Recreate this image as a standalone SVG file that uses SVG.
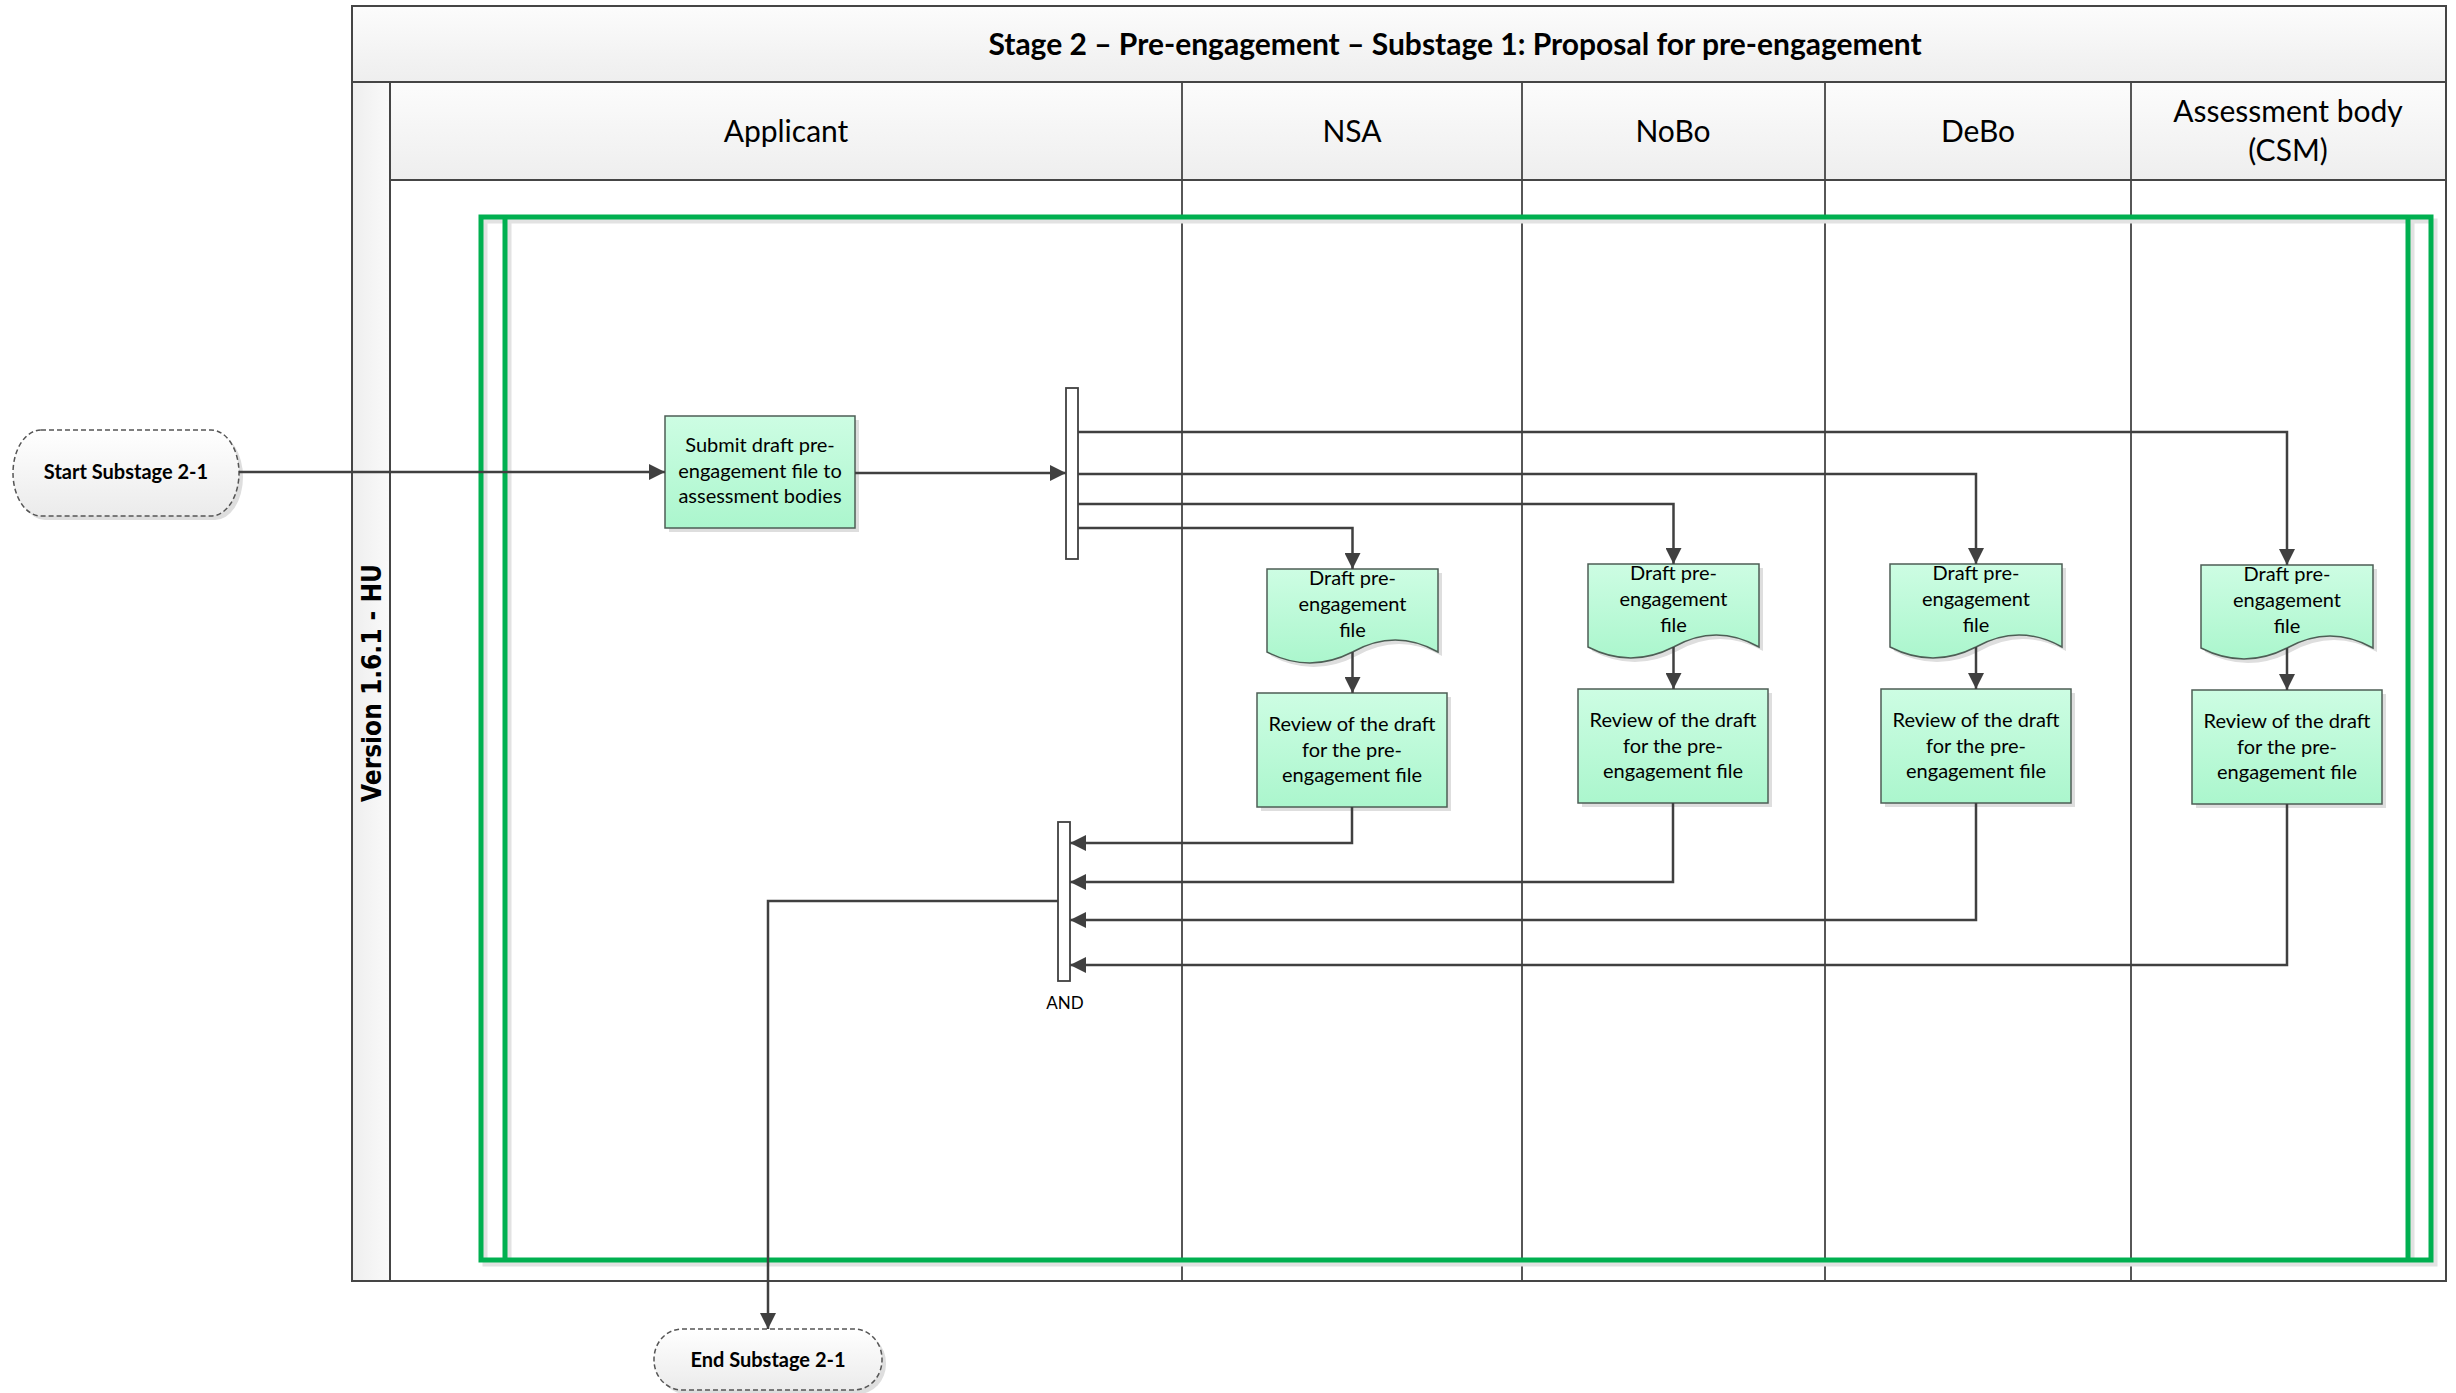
<svg xmlns="http://www.w3.org/2000/svg" width="2456" height="1393" viewBox="0 0 2456 1393">
<defs>
<linearGradient id="gBar" x1="0" y1="0" x2="0" y2="1"><stop offset="0" stop-color="#fcfcfc"/><stop offset="1" stop-color="#eeeeee"/></linearGradient>
<linearGradient id="gVer" x1="0" y1="0" x2="1" y2="0"><stop offset="0" stop-color="#eeeeee"/><stop offset="1" stop-color="#fafafa"/></linearGradient>
<linearGradient id="gMint" x1="0" y1="0" x2="0" y2="1"><stop offset="0" stop-color="#cdfde3"/><stop offset="1" stop-color="#abf6cd"/></linearGradient>
<linearGradient id="gTerm" x1="0" y1="0" x2="0" y2="1"><stop offset="0" stop-color="#ffffff"/><stop offset="1" stop-color="#ebebeb"/></linearGradient>
<marker id="arr" viewBox="0 0 16 16" refX="16" refY="8" markerWidth="16" markerHeight="16" markerUnits="userSpaceOnUse" orient="auto"><path d="M0,0 L16,8 L0,16 Z" fill="#404040"/></marker>
<style>
.frame{fill:none;stroke:#454545;stroke-width:2}
.lane{stroke:#454545;stroke-width:1.8;fill:none}
.green{fill:none;stroke:#00b050;stroke-width:5}
.gshadow{fill:none;stroke:#e2e2e2;stroke-width:5}
.conn{fill:none;stroke:#404040;stroke-width:2.5;marker-end:url(#arr)}
.plain{fill:none;stroke:#404040;stroke-width:2.5}
.box{fill:url(#gMint);stroke:#4d5e55;stroke-width:1.5}
.shadow{fill:#dedede;stroke:none}
.term{fill:url(#gTerm);stroke:#555555;stroke-width:1.5;stroke-dasharray:5 3}
.bar{fill:#ffffff;stroke:#404040;stroke-width:1.8}
.t{font-family:Lato,"Liberation Sans",sans-serif;fill:#000;text-anchor:middle}
.title{font-size:30px;font-weight:bold}
.hdr{font-size:30px}
.nt{font-size:20px}
.bt{font-size:20px;font-weight:bold}
.ver{font-family:"DejaVu Sans",Verdana,sans-serif;font-weight:bold;font-size:26px;fill:#000;text-anchor:middle}
</style>
</defs>
<rect width="2456" height="1393" fill="#ffffff"/>

<g id="pool">
<rect x="352" y="6" width="2094" height="1275" fill="#ffffff" class="frame"/>
<rect x="352" y="6" width="2094" height="76" fill="url(#gBar)" stroke="#454545" stroke-width="2"/>
<text class="t title" x="1455" y="55">Stage 2 – Pre-engagement – Substage 1: Proposal for pre-engagement</text>
<rect x="352" y="82" width="38" height="1199" fill="url(#gVer)" stroke="#454545" stroke-width="2"/>
<text class="ver" transform="translate(371.5,683) rotate(-90)" y="9.5" textLength="238" lengthAdjust="spacingAndGlyphs">Version 1.6.1 - HU</text>
<rect x="390" y="82" width="2056" height="98" fill="url(#gBar)" stroke="#454545" stroke-width="2"/>
<line class="lane" x1="1182" y1="82" x2="1182" y2="1281"/>
<line class="lane" x1="1522" y1="82" x2="1522" y2="1281"/>
<line class="lane" x1="1825" y1="82" x2="1825" y2="1281"/>
<line class="lane" x1="2131" y1="82" x2="2131" y2="1281"/>
<text class="t hdr" x="786" y="142">Applicant</text>
<text class="t hdr" x="1352" y="142">NSA</text>
<text class="t hdr" x="1673" y="142">NoBo</text>
<text class="t hdr" x="1978" y="142">DeBo</text>
<text class="t hdr" x="2288" y="122">Assessment body</text>
<text class="t hdr" x="2288" y="161">(CSM)</text>
</g>

<g id="container">
<rect class="gshadow" x="485" y="221" width="1950" height="1043"/>
<line class="gshadow" x1="509" y1="221" x2="509" y2="1264"/>
<line class="gshadow" x1="2412" y1="221" x2="2412" y2="1264"/>
<rect class="green" x="481" y="217" width="1950" height="1043"/>
<line class="green" x1="505" y1="217" x2="505" y2="1260"/>
<line class="green" x1="2408" y1="217" x2="2408" y2="1260"/>
</g>

<g id="start">
<rect class="shadow" x="17" y="434" width="226" height="86" rx="28" ry="43"/>
<rect class="term" x="13" y="430" width="226" height="86" rx="28" ry="43"/>
<text class="t bt" x="126" y="479">Start Substage 2-1</text>
</g>

<g id="submit">
<rect class="shadow" x="669" y="420" width="190" height="112"/>
<rect class="box" x="665" y="416" width="190" height="112"/>
<text class="t nt" x="760" y="452">Submit draft pre-</text>
<text class="t nt" x="760" y="477.5">engagement file to</text>
<text class="t nt" x="760" y="503">assessment bodies</text>
</g>

<g id="fork">
<rect class="bar" x="1066" y="388" width="12" height="171"/>
</g>

<g id="doc-nsa">
<path class="shadow" transform="translate(4,4)" d="M1267,569 H1438 V652 Q1395.25,628 1352.5,652 Q1309.75,674 1267,652 Z"/>
<path class="box" d="M1267,569 H1438 V652 Q1395.25,628 1352.5,652 Q1309.75,674 1267,652 Z"/>
<text class="t nt" x="1352.5" y="585">Draft pre-</text>
<text class="t nt" x="1352.5" y="611">engagement</text>
<text class="t nt" x="1352.5" y="637">file</text>
</g>
<g id="doc-nobo">
<path class="shadow" transform="translate(4,4)" d="M1588,564 H1759 V647 Q1716.25,623 1673.5,647 Q1630.75,669 1588,647 Z"/>
<path class="box" d="M1588,564 H1759 V647 Q1716.25,623 1673.5,647 Q1630.75,669 1588,647 Z"/>
<text class="t nt" x="1673.5" y="580">Draft pre-</text>
<text class="t nt" x="1673.5" y="606">engagement</text>
<text class="t nt" x="1673.5" y="632">file</text>
</g>
<g id="doc-debo">
<path class="shadow" transform="translate(4,4)" d="M1890,564 H2062 V647 Q2019,623 1976,647 Q1933,669 1890,647 Z"/>
<path class="box" d="M1890,564 H2062 V647 Q2019,623 1976,647 Q1933,669 1890,647 Z"/>
<text class="t nt" x="1976" y="580">Draft pre-</text>
<text class="t nt" x="1976" y="606">engagement</text>
<text class="t nt" x="1976" y="632">file</text>
</g>
<g id="doc-ab">
<path class="shadow" transform="translate(4,4)" d="M2201,565 H2373 V648 Q2330,624 2287,648 Q2244,670 2201,648 Z"/>
<path class="box" d="M2201,565 H2373 V648 Q2330,624 2287,648 Q2244,670 2201,648 Z"/>
<text class="t nt" x="2287" y="581">Draft pre-</text>
<text class="t nt" x="2287" y="607">engagement</text>
<text class="t nt" x="2287" y="633">file</text>
</g>

<g id="review-nsa">
<rect class="shadow" x="1261" y="697" width="190" height="114"/>
<rect class="box" x="1257" y="693" width="190" height="114"/>
<text class="t nt" x="1352" y="731">Review of the draft</text>
<text class="t nt" x="1352" y="756.5">for the pre-</text>
<text class="t nt" x="1352" y="782">engagement file</text>
</g>
<g id="review-nobo">
<rect class="shadow" x="1582" y="693" width="190" height="114"/>
<rect class="box" x="1578" y="689" width="190" height="114"/>
<text class="t nt" x="1673" y="727">Review of the draft</text>
<text class="t nt" x="1673" y="752.5">for the pre-</text>
<text class="t nt" x="1673" y="778">engagement file</text>
</g>
<g id="review-debo">
<rect class="shadow" x="1885" y="693" width="190" height="114"/>
<rect class="box" x="1881" y="689" width="190" height="114"/>
<text class="t nt" x="1976" y="727">Review of the draft</text>
<text class="t nt" x="1976" y="752.5">for the pre-</text>
<text class="t nt" x="1976" y="778">engagement file</text>
</g>
<g id="review-ab">
<rect class="shadow" x="2196" y="694" width="190" height="114"/>
<rect class="box" x="2192" y="690" width="190" height="114"/>
<text class="t nt" x="2287" y="728">Review of the draft</text>
<text class="t nt" x="2287" y="753.5">for the pre-</text>
<text class="t nt" x="2287" y="779">engagement file</text>
</g>

<g id="join">
<rect class="bar" x="1058" y="822" width="12" height="159"/>
<text class="t" style="font-size:17px" x="1065" y="1009">AND</text>
</g>

<g id="end">
<rect class="shadow" x="658" y="1333" width="228" height="61" rx="28" ry="30"/>
<rect class="term" x="654" y="1329" width="228" height="61" rx="28" ry="30"/>
<text class="t bt" x="768" y="1367">End Substage 2-1</text>
</g>

<g id="connectors">
<path class="conn" d="M239,472 H665"/>
<path class="conn" d="M855,473 H1066"/>
<path class="conn" d="M1078,432 H2287 V565"/>
<path class="conn" d="M1078,474 H1976 V564"/>
<path class="conn" d="M1078,504 H1673.5 V564"/>
<path class="conn" d="M1078,528 H1352.5 V569"/>
<path class="conn" d="M1352.5,652 V693"/>
<path class="conn" d="M1673.5,647 V689"/>
<path class="conn" d="M1976,647 V689"/>
<path class="conn" d="M2287,648 V690"/>
<path class="conn" d="M1352,807 V843 H1070"/>
<path class="conn" d="M1673,803 V882 H1070"/>
<path class="conn" d="M1976,803 V920 H1070"/>
<path class="conn" d="M2287,804 V965 H1070"/>
<path class="conn" d="M1058,901 H768 V1329"/>
</g>
</svg>
